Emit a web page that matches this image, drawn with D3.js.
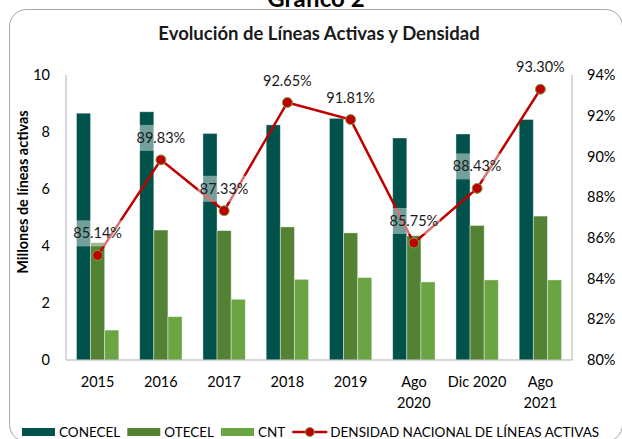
<!DOCTYPE html>
<html>
<head>
<meta charset="utf-8">
<script src="https://cdn.jsdelivr.net/npm/d3@7"></script>
<style>
  body { margin: 0; background: #fff; }
  svg { display: block; font-family: Lato, "Open Sans", sans-serif; }
</style>
</head>
<body>
<div id="chart"></div>
<script>
// data
var categories = ["2015", "2016", "2017", "2018", "2019", "Ago 2020", "Dic 2020", "Ago 2021"];
var catLabels = [["2015"], ["2016"], ["2017"], ["2018"], ["2019"], ["Ago", "2020"], ["Dic 2020"], ["Ago", "2021"]];
var conecel = [8.66, 8.71, 7.95, 8.25, 8.48, 7.79, 7.93, 8.44];
var otecel = [4.12, 4.56, 4.54, 4.67, 4.46, 4.36, 4.72, 5.05];
var cnt = [1.05, 1.52, 2.13, 2.83, 2.89, 2.74, 2.81, 2.81];
var densidad = [85.14, 89.83, 87.33, 92.65, 91.81, 85.75, 88.43, 93.30];
var leftTicks = [0, 2, 4, 6, 8, 10];
var rightTicks = [80, 82, 84, 86, 88, 90, 92, 94];

var series = [
    {name: "CONECEL", values: conecel, color: "#00524A"},
    {name: "OTECEL", values: otecel, color: "#548235"},
    {name: "CNT", values: cnt, color: "#6AA443"}
];

var width = 622, height = 439;
var plotL = 66, plotR = 572, plotT = 75, plotB = 360;

var svg = d3.select("#chart").append("svg")
    .attr("width", width)
    .attr("height", height);

// frame + titles
svg.append("rect")
    .attr("x", 9.5).attr("y", 9.5)
    .attr("width", 613).attr("height", 432)
    .attr("rx", 17)
    .attr("fill", "none")
    .attr("stroke", "#a6a6a6");

svg.append("text")
    .attr("x", 316).attr("y", 7)
    .attr("text-anchor", "middle")
    .style("font-size", "24px").style("font-weight", "bold")
    .text("Gráfico 2");

svg.append("text")
    .attr("x", 319).attr("y", 40)
    .attr("text-anchor", "middle")
    .style("font-size", "18.5px").style("font-weight", "bold")
    .attr("fill", "#1a1a1a")
    .text("Evolución de Líneas Activas y Densidad");

var x = d3.scaleBand()
    .domain(categories)
    .range([plotL, plotR])
    .paddingInner(0.33)
    .paddingOuter(0.165);

var xSub = d3.scaleBand()
    .domain(series.map(d => d.name))
    .range([0, x.bandwidth()]);

var y = d3.scaleLinear().domain([0, 10]).range([plotB, plotT]);
var y2 = d3.scaleLinear().domain([80, 94]).range([plotB, plotT]);

// axes
svg.append("line")
    .attr("x1", plotL).attr("x2", plotL).attr("y1", plotT).attr("y2", plotB)
    .attr("stroke", "#b0b0b0");
svg.append("line")
    .attr("x1", plotR).attr("x2", plotR).attr("y1", plotT).attr("y2", plotB)
    .attr("stroke", "#b0b0b0");

svg.append("g").selectAll("text")
    .data(leftTicks)
    .join("text")
    .attr("x", 50)
    .attr("y", d => y(d))
    .attr("dy", "0.35em")
    .attr("text-anchor", "end")
    .style("font-size", "14.5px")
    .text(d => d);

svg.append("g").selectAll("text")
    .data(rightTicks)
    .join("text")
    .attr("x", 587)
    .attr("y", d => y2(d))
    .attr("dy", "0.35em")
    .style("font-size", "14.5px")
    .text(d => d + "%");

svg.append("text")
    .attr("transform", "translate(28,192) rotate(-90)")
    .attr("text-anchor", "middle")
    .style("font-size", "14.5px").style("font-weight", "bold")
    .text("Millones de líneas activas");

var xl = svg.append("g").selectAll("text")
    .data(categories)
    .join("text")
    .attr("x", d => x(d) + x.bandwidth() / 2)
    .attr("y", 387)
    .attr("text-anchor", "middle")
    .style("font-size", "14.5px");
xl.selectAll("tspan")
    .data((d, i) => catLabels[i])
    .join("tspan")
    .attr("x", function() { return this.parentNode.getAttribute("x"); })
    .attr("dy", (d, i) => i ? 21 : 0)
    .text(d => d);

// bars
svg.append("g").selectAll("g")
    .data(series)
    .join("g")
    .attr("fill", d => d.color)
    .selectAll("rect")
    .data(s => s.values.map((v, i) => ({name: s.name, cat: categories[i], v: v})))
    .join("rect")
    .attr("x", d => x(d.cat) + xSub(d.name))
    .attr("y", d => y(d.v))
    .attr("width", xSub.bandwidth())
    .attr("height", d => y(0) - y(d.v))
    .attr("stroke", "#ffffff")
    .attr("stroke-opacity", 0.5)
    .attr("stroke-width", 0.8);

svg.append("line")
    .attr("x1", plotL).attr("x2", plotR).attr("y1", plotB).attr("y2", plotB)
    .attr("stroke", "#b0b0b0");

// density line
var pts = densidad.map((v, i) => ({cat: categories[i], v: v}));
var line = d3.line()
    .x(d => x(d.cat) + x.bandwidth() / 2)
    .y(d => y2(d.v));

svg.append("path")
    .datum(pts)
    .attr("d", line)
    .attr("fill", "none")
    .attr("stroke", "#C00000")
    .attr("stroke-width", 2.5);

svg.append("g").selectAll("circle")
    .data(pts)
    .join("circle")
    .attr("cx", d => x(d.cat) + x.bandwidth() / 2)
    .attr("cy", d => y2(d.v))
    .attr("r", 5)
    .attr("fill", "#C00000")
    .attr("stroke", "#70AD47")
    .attr("stroke-width", 1);

// data labels with translucent white boxes
var lab = svg.append("g").selectAll("g")
    .data(pts)
    .join("g")
    .attr("transform", d => "translate(" + (x(d.cat) + x.bandwidth() / 2) + "," + (y2(d.v) - 22) + ")");

lab.append("rect")
    .attr("fill", "#ffffff")
    .attr("fill-opacity", 0.45);

lab.append("text")
    .attr("text-anchor", "middle")
    .attr("dy", "0.35em")
    .style("font-size", "14.5px")
    .attr("fill", "#1a1a1a")
    .text(d => d.v.toFixed(2) + "%");

lab.each(function() {
    var g = d3.select(this);
    var bb = g.select("text").node().getBBox();
    g.select("rect")
        .attr("x", bb.x - 2)
        .attr("y", -13)
        .attr("width", bb.width + 4)
        .attr("height", 26);
});

// legend
var legend = svg.append("g").attr("transform", "translate(22,432)");
var lx = 0;
series.forEach(function(s) {
    legend.append("rect")
        .attr("x", lx).attr("y", -4)
        .attr("width", 33).attr("height", 8)
        .attr("fill", s.color);
    var t = legend.append("text")
        .attr("x", lx + 37).attr("dy", "0.35em")
        .style("font-size", "13.5px")
        .text(s.name);
    lx += 37 + t.node().getComputedTextLength() + 7;
});
legend.append("line")
    .attr("x1", lx).attr("x2", lx + 35)
    .attr("stroke", "#C00000").attr("stroke-width", 2.5);
legend.append("circle")
    .attr("cx", lx + 17.5).attr("r", 4.5)
    .attr("fill", "#C00000").attr("stroke", "#70AD47");
legend.append("text")
    .attr("x", lx + 38).attr("dy", "0.35em")
    .style("font-size", "13.5px")
    .text("DENSIDAD NACIONAL DE LÍNEAS ACTIVAS");
</script>
</body>
</html>
